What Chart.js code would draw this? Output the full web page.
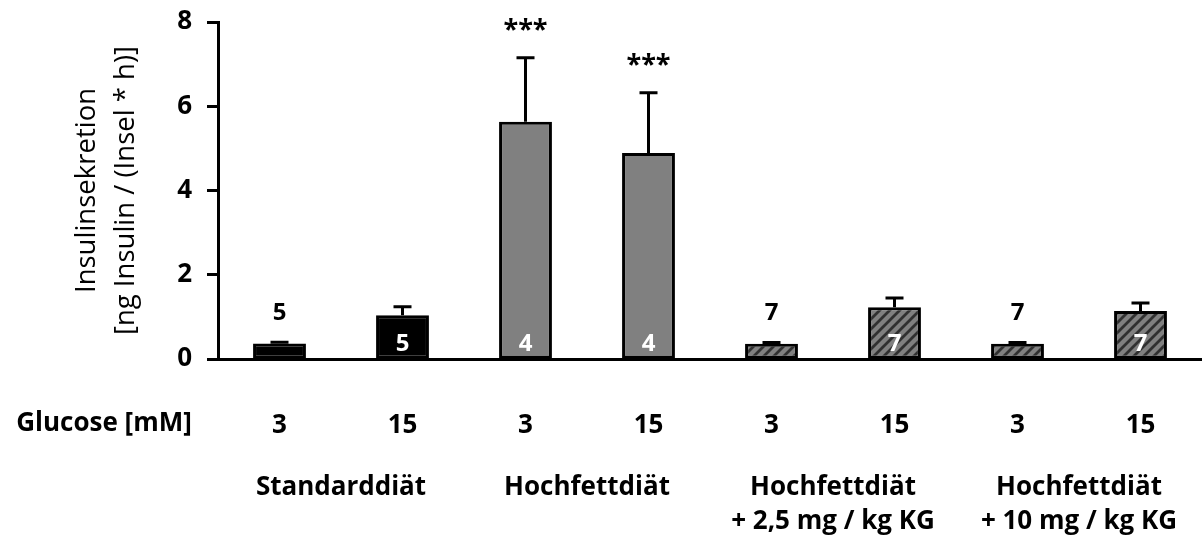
<!DOCTYPE html>
<html>
<head>
<meta charset="utf-8">
<script src="https://cdn.jsdelivr.net/npm/chart.js@4.4.1/dist/chart.umd.min.js"></script>
<style>
  html, body { margin: 0; padding: 0; background: #ffffff; }
  #wrap { width: 1202px; height: 536px; }
</style>
</head>
<body>
<div id="wrap"><canvas id="c" width="1202" height="536"></canvas></div>
<script>
// Glucose concentration per bar (x tick labels)
const glucose = ['3', '15', '3', '15', '3', '15', '3', '15'];
// Diet groups, each spanning two bars
const dietGroups = [
  ['Standarddiät'],
  ['Hochfettdiät'],
  ['Hochfettdiät', '+ 2,5 mg / kg KG'],
  ['Hochfettdiät', '+ 10 mg / kg KG']
];
// Insulin secretion, ng insulin / (islet * h)
const secretion = [0.37, 1.04, 5.63, 4.89, 0.36, 1.23, 0.36, 1.14];
// Standard error (upper whisker)
const sem = [0.03, 0.20, 1.52, 1.43, 0.03, 0.22, 0.03, 0.19];
// Number of animals per bar
const nAnimals = [5, 5, 4, 4, 7, 7, 7, 7];
// Significance markers
const significance = ['', '', '***', '***', '', '', '', ''];
// Y axis ticks
const yTicks = [0, 2, 4, 6, 8];

const FONT = '"Open Sans", "DejaVu Sans", sans-serif';
const canvas = document.getElementById('c');
const ctx = canvas.getContext('2d');

// Diagonal hatch for the treated groups
function makeHatch() {
  const s = 10;
  const tile = document.createElement('canvas');
  tile.width = s; tile.height = s;
  const g = tile.getContext('2d');
  g.fillStyle = '#808080';
  g.fillRect(0, 0, s, s);
  g.strokeStyle = '#303030';
  g.lineWidth = 2.8;
  g.beginPath();
  g.moveTo(-2, s + 2); g.lineTo(s + 2, -2);
  g.moveTo(-2, 2); g.lineTo(2, -2);
  g.moveTo(s - 2, s + 2); g.lineTo(s + 2, s - 2);
  g.stroke();
  return ctx.createPattern(tile, 'repeat');
}
const hatch = makeHatch();
const groupFill = ['#000000', '#808080', hatch, hatch];
const barFills = glucose.map((_, i) => groupFill[Math.floor(i / 2)]);

const annotations = {
  id: 'annotations',
  afterDatasetsDraw(chart) {
    const c = chart.ctx;
    const ys = chart.scales.y;
    const meta = chart.getDatasetMeta(0);
    const zero = ys.getPixelForValue(0);
    c.save();
    meta.data.forEach((bar, i) => {
      const base = ys.getPixelForValue(secretion[i]);
      const top = ys.getPixelForValue(secretion[i] + sem[i]);
      // error whisker
      c.strokeStyle = '#000';
      c.lineWidth = 3;
      c.beginPath();
      c.moveTo(bar.x, base);
      c.lineTo(bar.x, top);
      c.moveTo(bar.x - 9, top);
      c.lineTo(bar.x + 9, top);
      c.stroke();
      // n per bar
      c.font = 'bold 24px ' + FONT;
      c.textAlign = 'center';
      c.textBaseline = 'middle';
      if (secretion[i] >= 0.8) {
        c.fillStyle = '#ffffff';
        c.fillText(String(nAnimals[i]), bar.x, zero - 15);
      } else {
        c.fillStyle = '#000000';
        c.fillText(String(nAnimals[i]), bar.x, top - 29);
      }
      // significance
      if (significance[i]) {
        c.fillStyle = '#000000';
        c.font = 'bold 27px ' + FONT;
        c.fillText(significance[i], bar.x, top - 27);
      }
    });
    c.restore();
  },
  afterDraw(chart) {
    const c = chart.ctx;
    const xs = chart.scales.x;
    c.save();
    c.fillStyle = '#000';
    c.font = 'bold 26px ' + FONT;
    c.textAlign = 'center';
    c.textBaseline = 'middle';
    c.fillText('Glucose [mM]', 104, 424);
    dietGroups.forEach((lines, g) => {
      const cx = (xs.getPixelForValue(2 * g) + xs.getPixelForValue(2 * g + 1)) / 2;
      lines.forEach((t, k) => c.fillText(t, cx, 488 + k * 34));
    });
    c.restore();
  }
};

new Chart(ctx, {
  type: 'bar',
  data: {
    labels: glucose,
    datasets: [{
      data: secretion,
      backgroundColor: barFills,
      borderColor: '#000000',
      borderWidth: 3,
      borderSkipped: false,
      barPercentage: 0.86,
      categoryPercentage: 0.5
    }]
  },
  options: {
    responsive: false,
    animation: false,
    devicePixelRatio: 1,
    layout: { padding: { top: 22, right: 0, bottom: 0, left: 0 } },
    plugins: { legend: { display: false }, tooltip: { enabled: false } },
    scales: {
      x: {
        grid: { display: false, drawTicks: false },
        border: { display: true, color: '#000', width: 3 },
        ticks: {
          color: '#000', padding: 51, maxRotation: 0, autoSkip: false,
          font: { family: FONT, size: 26, weight: 'bold' }
        },
        afterFit(s) { s.height = 177; s.paddingLeft = 0; s.paddingRight = 0; }
      },
      y: {
        min: 0, max: 8,
        afterBuildTicks(s) { s.ticks = yTicks.map(v => ({ value: v })); },
        ticks: {
          color: '#000', padding: 15,
          font: { family: FONT, size: 26, weight: 'bold' }
        },
        grid: {
          display: true, drawOnChartArea: false, drawTicks: true,
          tickLength: 11, tickWidth: 3, tickColor: '#000'
        },
        border: { display: true, color: '#000', width: 3 },
        title: {
          display: true,
          text: ['Insulinsekretion', '[ng Insulin / (Insel * h)]'],
          color: '#000',
          font: { family: FONT, size: 27.5, lineHeight: 1.4 },
          padding: { top: 68, bottom: 0 }
        },
        afterFit(s) { s.width = 218; s.paddingTop = 0; s.paddingBottom = 0; }
      }
    }
  },
  plugins: [annotations]
});
</script>
</body>
</html>
